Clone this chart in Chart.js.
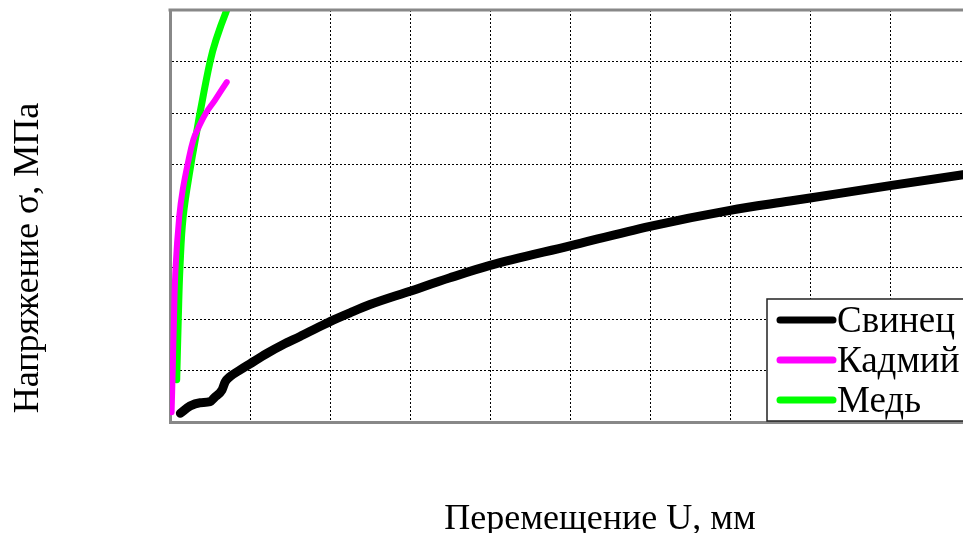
<!DOCTYPE html>
<html lang="ru">
<head>
    <meta charset="UTF-8">
    <title>Напряжение — перемещение</title>
    <script src="https://cdn.jsdelivr.net/npm/chart.js@4/dist/chart.umd.min.js"></script>
    <style>
        html, body { margin: 0; padding: 0; background: #fff; overflow: hidden; }
        #chart-container { width: 1030px; height: 533px; position: relative; }
    </style>
</head>
<body>
    <div id="chart-container">
        <canvas id="myChart"></canvas>
    </div>

    <script>
    // series names (legend)
    const seriesNames = ['Свинец', 'Кадмий', 'Медь'];

    // Свинец (lead): displacement U and stress σ
    const leadU = [0.13, 0.25, 0.375, 0.5, 0.56, 0.65, 0.69, 0.75, 0.875, 1.0, 1.21, 1.41, 1.625, 1.83, 2.0, 2.25, 2.5, 3.0, 3.5, 4.0, 5.0, 6.0, 7.0, 7.75, 8.0, 9.0, 9.91, 10.75];
    const leadS = [1.7, 3.1, 3.75, 3.95, 4.8, 6.2, 7.8, 8.8, 10.1, 11.3, 13.3, 15.0, 16.6, 18.2, 19.5, 21.2, 22.8, 25.4, 28.0, 30.4, 34.2, 38.0, 41.1, 42.9, 43.5, 45.9, 48.0, 49.8];

    // Кадмий (cadmium)
    const cadmiumU = [0.02, 0.034, 0.05, 0.07, 0.116, 0.158, 0.221, 0.291, 0.354, 0.45, 0.5625, 0.709];
    const cadmiumS = [1.9, 10.1, 20.2, 30.1, 40.0, 45.0, 50.1, 54.8, 57.1, 60.0, 62.5, 66.0];

    // Медь (copper)
    const copperU = [0.084, 0.104, 0.125, 0.166, 0.2625, 0.32, 0.375, 0.5, 0.575, 0.71, 0.8];
    const copperS = [8.2, 20.2, 30.1, 40.0, 50.1, 55.1, 60.0, 69.9, 74.2, 80.0, 83.0];

    const xTitle = 'Перемещение U, мм';
    const yTitle = 'Напряжение σ, МПа';

    const serif = "'Liberation Serif', 'Times New Roman', serif";

    function toPoints(xs, ys) {
        return xs.map((x, i) => ({ x: x, y: ys[i] }));
    }

    // axis titles, frame and boxed legend drawn on the canvas
    const decorPlugin = {
        id: 'decor',
        afterDatasetsDraw(chart) {
            const ctx = chart.ctx;
            const area = chart.chartArea;
            ctx.save();

            // top frame line
            ctx.strokeStyle = '#888';
            ctx.lineWidth = 3;
            ctx.beginPath();
            ctx.moveTo(area.left - 1.5, area.top);
            ctx.lineTo(area.right, area.top);
            ctx.stroke();

            // legend box
            const lx = 767, ly = 299, lw = 260, lh = 122;
            ctx.fillStyle = '#fff';
            ctx.fillRect(lx, ly, lw, lh);
            ctx.strokeStyle = '#222';
            ctx.lineWidth = 1.5;
            ctx.strokeRect(lx, ly, lw, lh);

            ctx.font = '37px ' + serif;
            ctx.textBaseline = 'middle';
            ctx.textAlign = 'left';
            chart.data.datasets.forEach((ds, i) => {
                const y = 320 + i * 40;
                ctx.strokeStyle = ds.borderColor;
                ctx.lineWidth = 7;
                ctx.lineCap = 'round';
                ctx.beginPath();
                ctx.moveTo(780, y);
                ctx.lineTo(833, y);
                ctx.stroke();
                ctx.fillStyle = '#000';
                ctx.fillText(ds.label, 837, y + 2);
            });

            // axis titles
            ctx.font = '36px ' + serif;
            ctx.textAlign = 'center';
            ctx.fillText(xTitle, 600, 520);
            ctx.translate(29, 258);
            ctx.rotate(-Math.PI / 2);
            ctx.fillText(yTitle, 0, 0);

            ctx.restore();
        }
    };

    function createChart() {
        const ctx = document.getElementById('myChart').getContext('2d');

        new Chart(ctx, {
            type: 'line',
            data: {
                datasets: [{
                    label: seriesNames[0],
                    data: toPoints(leadU, leadS),
                    borderColor: '#000000',
                    borderWidth: 9,
                    cubicInterpolationMode: 'monotone',
                }, {
                    label: seriesNames[1],
                    data: toPoints(cadmiumU, cadmiumS),
                    borderColor: '#ff00ff',
                    borderWidth: 6,
                    tension: 0.4,
                }, {
                    label: seriesNames[2],
                    data: toPoints(copperU, copperS),
                    borderColor: '#00ff00',
                    borderWidth: 7,
                    tension: 0.4,
                }]
            },
            options: {
                responsive: true,
                maintainAspectRatio: false,
                animation: false,
                layout: {
                    padding: { left: 170, top: 10, right: 0, bottom: 111 }
                },
                elements: {
                    point: { radius: 0 },
                    line: {
                        borderCapStyle: 'round',
                        borderJoinStyle: 'round',
                        fill: false
                    }
                },
                datasets: {
                    line: { clip: 0 }
                },
                plugins: {
                    legend: { display: false },
                    tooltip: { enabled: false }
                },
                scales: {
                    x: {
                        type: 'linear',
                        min: 0,
                        max: 10.75,
                        ticks: { display: false, stepSize: 1 },
                        grid: {
                            color: '#000',
                            lineWidth: 1,
                            drawTicks: false
                        },
                        border: { color: '#888', width: 3, dash: [2, 2] }
                    },
                    y: {
                        type: 'linear',
                        min: 0,
                        max: 80,
                        ticks: { display: false, stepSize: 10 },
                        grid: {
                            color: '#000',
                            lineWidth: 1,
                            drawTicks: false
                        },
                        border: { color: '#888', width: 3, dash: [2, 2] }
                    }
                }
            },
            plugins: [decorPlugin]
        });
    }

    createChart();
    </script>
</body>
</html>
